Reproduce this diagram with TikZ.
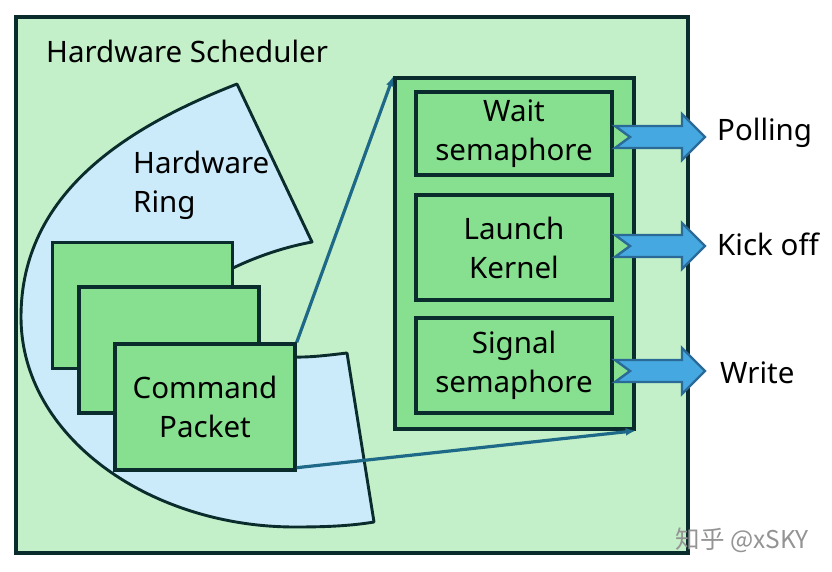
\documentclass[tikz,border=0pt]{standalone}
\usepackage{fontspec}
\setmainfont{Noto Sans}
\newfontfamily\cjk{Noto Sans CJK SC}
\usetikzlibrary{arrows.meta}
\definecolor{frameg}{HTML}{C3F0C8}
\definecolor{boxg}{HTML}{86E08F}
\definecolor{ringb}{HTML}{CCEBFA}
\definecolor{edge}{HTML}{0B2C2C}
\definecolor{conn}{HTML}{1E6888}
\definecolor{barfill}{HTML}{45A8E0}
\definecolor{baredge}{HTML}{2B6A96}
\tikzset{
  txt/.style={font=\fontsize{29.5}{39}\selectfont, text=black, align=center, inner sep=0pt},
  frame/.style={draw=edge, fill=frameg, line width=3.4pt},
  packet/.style={draw=edge, fill=boxg, line width=3.4pt, minimum width=180pt, minimum height=126pt, inner sep=0pt},
  container/.style={draw=edge, fill=boxg, line width=3.4pt, minimum width=239pt, minimum height=351pt, inner sep=0pt},
  stepbox/.style={draw=edge, fill=boxg, line width=3.4pt, minimum width=196pt, inner sep=0pt, font=\fontsize{29.5}{39}\selectfont, align=center},
  ring/.style={draw=edge, fill=ringb, line width=2.9pt, line join=round},
  connector/.style={draw=conn, line width=3.2pt, -{Latex[length=10pt,width=8pt]}},
  barrow/.style={draw=baredge, fill=barfill, line width=2.4pt, line join=miter},
}
\begin{document}
\begin{tikzpicture}[x=1pt,y=-1pt]
\useasboundingbox (0,0) rectangle (832,572);
\fill[white] (0,0) rectangle (832,572);
% outer frame
\draw[frame] (16,17) rectangle (688,553);
\node[txt, anchor=west] (title) at (46,51) {Hardware Scheduler};
% ring
\draw[ring] (237,84) .. controls (127,127) and (21,193) .. (21,317)
  .. controls (21,437) and (150,527) .. (295,527)
  .. controls (325,527) and (350,526) .. (374,522)
  -- (347,353)
  .. controls (330,355) and (310,357.5) .. (295,357)
  .. controls (230,355) and (200,290) .. (233,268)
  .. controls (258,256) and (285,247) .. (312,242)
  -- cycle;
\node[txt, anchor=west, align=left] (ringlabel) at (133,185) {Hardware\\Ring};
% packets
\node[packet] (p1) at (142.5,305.5) {};
\node[packet] (p2) at (169,350) {};
\node[packet, txt, minimum width=180pt, minimum height=126pt, draw=edge, fill=boxg, line width=3.4pt] (p3) at (205,407) {Command\\Packet};
% container
\node[container] (cont) at (514.5,253.5) {};
\node[stepbox, minimum height=83pt] (wait) at (514,133.5) {Wait\\semaphore};
\node[stepbox, minimum height=105pt] (launch) at (514,247.5) {Launch\\Kernel};
\node[stepbox, minimum height=95pt] (signal) at (514,365.5) {Signal\\semaphore};
% connectors
\draw[connector] (p3.north east) -- (cont.north west);
\draw[connector] ([yshift=4pt]p3.south east) -- (cont.south east);
% block arrows
\foreach \cy in {137,246,371}{
  \draw[barrow] (615,\cy-11) -- (682,\cy-11) -- (682,\cy-23) -- (705,\cy) -- (682,\cy+23) -- (682,\cy+11) -- (615,\cy+11) -- (630,\cy) -- cycle;
}
\node[txt, anchor=west] (poll) at (717,133) {Polling};
\node[txt, anchor=west] (kick) at (717,244) {Kick off};
\node[txt, anchor=west] (write) at (720,373) {Write};
% watermark
\node[inner sep=0pt, text=black!42, font=\fontsize{24.5}{28}\selectfont] (wm) at (742,540) {\cjk 知乎 @xSKY};
\end{tikzpicture}
\end{document}
